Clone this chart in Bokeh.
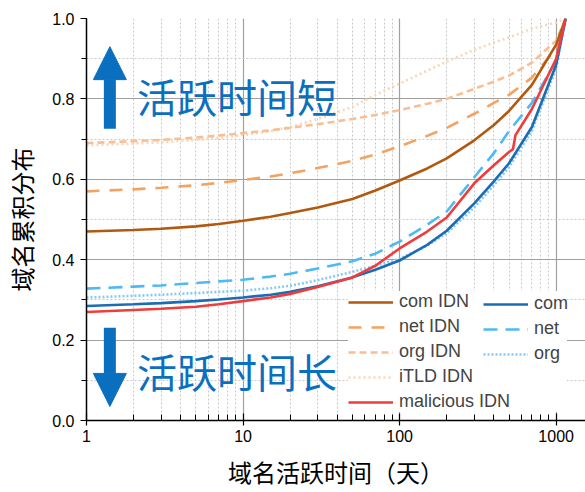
from bokeh.plotting import figure
from bokeh.models import (Legend, LegendItem, Arrow, NormalHead, Label, Range1d,
                          SingleIntervalTicker, NumeralTickFormatter, LogTicker)
from bokeh.embed import file_html
from bokeh.resources import INLINE

# ---------------- data ----------------
days = [1, 2, 3, 5, 7, 10, 15, 20, 30, 50, 70, 100, 150, 200, 300, 400, 500, 700, 1000, 1150]
com_idn = [0.470, 0.474, 0.477, 0.483, 0.489, 0.497, 0.507, 0.516, 0.530, 0.551, 0.572, 0.597,
           0.627, 0.652, 0.697, 0.735, 0.770, 0.835, 0.935, 1.0]
net_idn = [0.570, 0.575, 0.579, 0.585, 0.591, 0.598, 0.607, 0.615, 0.628, 0.646, 0.662, 0.682,
           0.708, 0.728, 0.763, 0.790, 0.810, 0.853, 0.925, 1.0]
org_idn = [0.690, 0.695, 0.698, 0.704, 0.709, 0.715, 0.722, 0.728, 0.737, 0.750, 0.760, 0.772,
           0.788, 0.800, 0.825, 0.843, 0.858, 0.890, 0.945, 1.0]
itld_idn = [0.684, 0.689, 0.692, 0.698, 0.703, 0.710, 0.720, 0.730, 0.750, 0.780, 0.810, 0.838,
            0.870, 0.893, 0.922, 0.940, 0.953, 0.975, 0.990, 1.0]
com = [0.285, 0.289, 0.292, 0.297, 0.301, 0.306, 0.313, 0.320, 0.334, 0.356, 0.375, 0.398,
       0.437, 0.472, 0.540, 0.595, 0.640, 0.730, 0.885, 1.0]
net = [0.328, 0.333, 0.336, 0.342, 0.346, 0.350, 0.358, 0.365, 0.378, 0.396, 0.415, 0.445,
       0.487, 0.520, 0.605, 0.665, 0.720, 0.790, 0.895, 1.0]
org = [0.306, 0.310, 0.313, 0.317, 0.320, 0.323, 0.329, 0.335, 0.349, 0.370, 0.385, 0.402,
       0.435, 0.466, 0.530, 0.585, 0.630, 0.720, 0.875, 1.0]
mal_days = [1, 2, 3, 5, 7, 10, 15, 20, 30, 50, 70, 100, 150, 200, 300, 400, 500, 530, 550, 700, 1000, 1150]
malicious = [0.270, 0.275, 0.278, 0.283, 0.289, 0.297, 0.306, 0.315, 0.332, 0.356, 0.385, 0.428,
             0.470, 0.505, 0.590, 0.635, 0.668, 0.675, 0.710, 0.775, 0.900, 1.0]

up_text = "活跃时间短"
down_text = "活跃时间长"
x_title = "域名活跃时间（天）"
y_title = "域名累积分布"

BLUE = "#0B6FBF"
CJK = "Noto Sans CJK SC"
LAT = "Liberation Sans"

p = figure(width=585, height=492, x_axis_type="log", output_backend="svg",
           toolbar_location=None, x_range=Range1d(1, 1540), y_range=Range1d(0, 1.0),
           min_border_left=86, min_border_right=0, min_border_top=18, min_border_bottom=72)
p.outline_line_color = None
p.background_fill_color = "white"

# grids
for g in (p.xgrid[0], p.ygrid[0]):
    g.grid_line_color = "#a0a0a0"
    g.grid_line_width = 1.2
    g.minor_grid_line_color = "#c8c8c8"
    g.minor_grid_line_dash = "2 2"
    g.minor_grid_line_width = 1

p.yaxis.ticker = SingleIntervalTicker(interval=0.2, num_minor_ticks=2)
p.xaxis.ticker = LogTicker(num_minor_ticks=10)
p.xaxis.formatter = NumeralTickFormatter(format="0")
p.yaxis.formatter = NumeralTickFormatter(format="0.0")

for ax in (p.xaxis[0], p.yaxis[0]):
    ax.axis_line_color = "black"
    ax.axis_line_width = 1.5
    ax.major_tick_line_color = "black"
    ax.minor_tick_line_color = "black"
    ax.major_tick_line_width = 1.2
    ax.major_label_text_font = LAT
    ax.major_label_text_font_size = "16px"
    ax.major_label_text_color = "black"
    ax.axis_label_text_font = CJK
    ax.axis_label_text_font_size = "24px"
    ax.axis_label_text_font_style = "normal"
    ax.axis_label_text_color = "black"

p.xaxis.major_tick_in = 7
p.xaxis.major_tick_out = 5
p.xaxis.minor_tick_in = 6
p.xaxis.minor_tick_out = 0
p.xaxis.major_label_standoff = 4
p.xaxis.axis_label = x_title
p.xaxis.axis_label_standoff = 9

p.yaxis.major_tick_in = 0
p.yaxis.major_tick_out = 6
p.yaxis.minor_tick_in = 0
p.yaxis.minor_tick_out = 5
p.yaxis.major_label_standoff = 6
p.yaxis.axis_label = y_title
p.yaxis.axis_label_standoff = 10

W = 2.6
r_itld = p.line(days, itld_idn, line_color="#f9d6b6", line_width=W, line_dash="2 3")
r_org_idn = p.line(days, org_idn, line_color="#f7bf95", line_width=W, line_dash="7 4")
r_net_idn = p.line(days, net_idn, line_color="#f4a262", line_width=W, line_dash="13 10")
r_com_idn = p.line(days, com_idn, line_color="#b25910", line_width=W)
r_org = p.line(days, org, line_color="#86c9f6", line_width=W, line_dash="2 2")
r_net = p.line(days, net, line_color="#4dbaf7", line_width=W, line_dash="14 8")
r_com = p.line(days, com, line_color="#1a6db5", line_width=W)
r_mal = p.line(mal_days, malicious, line_color="#f03c3c", line_width=W)

common = dict(label_text_font=LAT, label_text_font_size="18px", glyph_width=45,
              glyph_height=20, label_height=20, spacing=4, padding=4, margin=0,
              border_line_color=None, label_standoff=6)
leg1 = Legend(items=[LegendItem(label="com IDN", renderers=[r_com_idn]),
                     LegendItem(label="net IDN", renderers=[r_net_idn]),
                     LegendItem(label="org IDN", renderers=[r_org_idn]),
                     LegendItem(label="iTLD IDN", renderers=[r_itld]),
                     LegendItem(label="malicious IDN", renderers=[r_mal])],
              location=(262, 8), background_fill_color="white", background_fill_alpha=1.0,
              label_width=168, **common)
leg2 = Legend(items=[LegendItem(label="com", renderers=[r_com]),
                     LegendItem(label="net", renderers=[r_net]),
                     LegendItem(label="org", renderers=[r_org])],
              location=(397, 56), background_fill_alpha=0.0, **common)
p.add_layout(leg1, "center")
p.add_layout(leg2, "center")

# arrows and annotation texts
arrow_x = 1.41
up_arrow = [0.726, 0.93]
down_arrow = [0.231, 0.035]
text_x = 2.1
up_text_y = 0.806
down_text_y = 0.124

for (ys, ye) in (up_arrow, down_arrow):
    p.add_layout(Arrow(end=NormalHead(size=33, fill_color=BLUE, line_color=BLUE),
                       x_start=arrow_x, y_start=ys, x_end=arrow_x, y_end=ye,
                       line_color=BLUE, line_width=12))

for t, y in ((up_text, up_text_y), (down_text, down_text_y)):
    p.add_layout(Label(x=text_x, y=y, text=t, text_font=CJK, text_font_size="40px",
                       text_color=BLUE, text_baseline="middle"))

open("out.html", "w").write(file_html(p, INLINE))
